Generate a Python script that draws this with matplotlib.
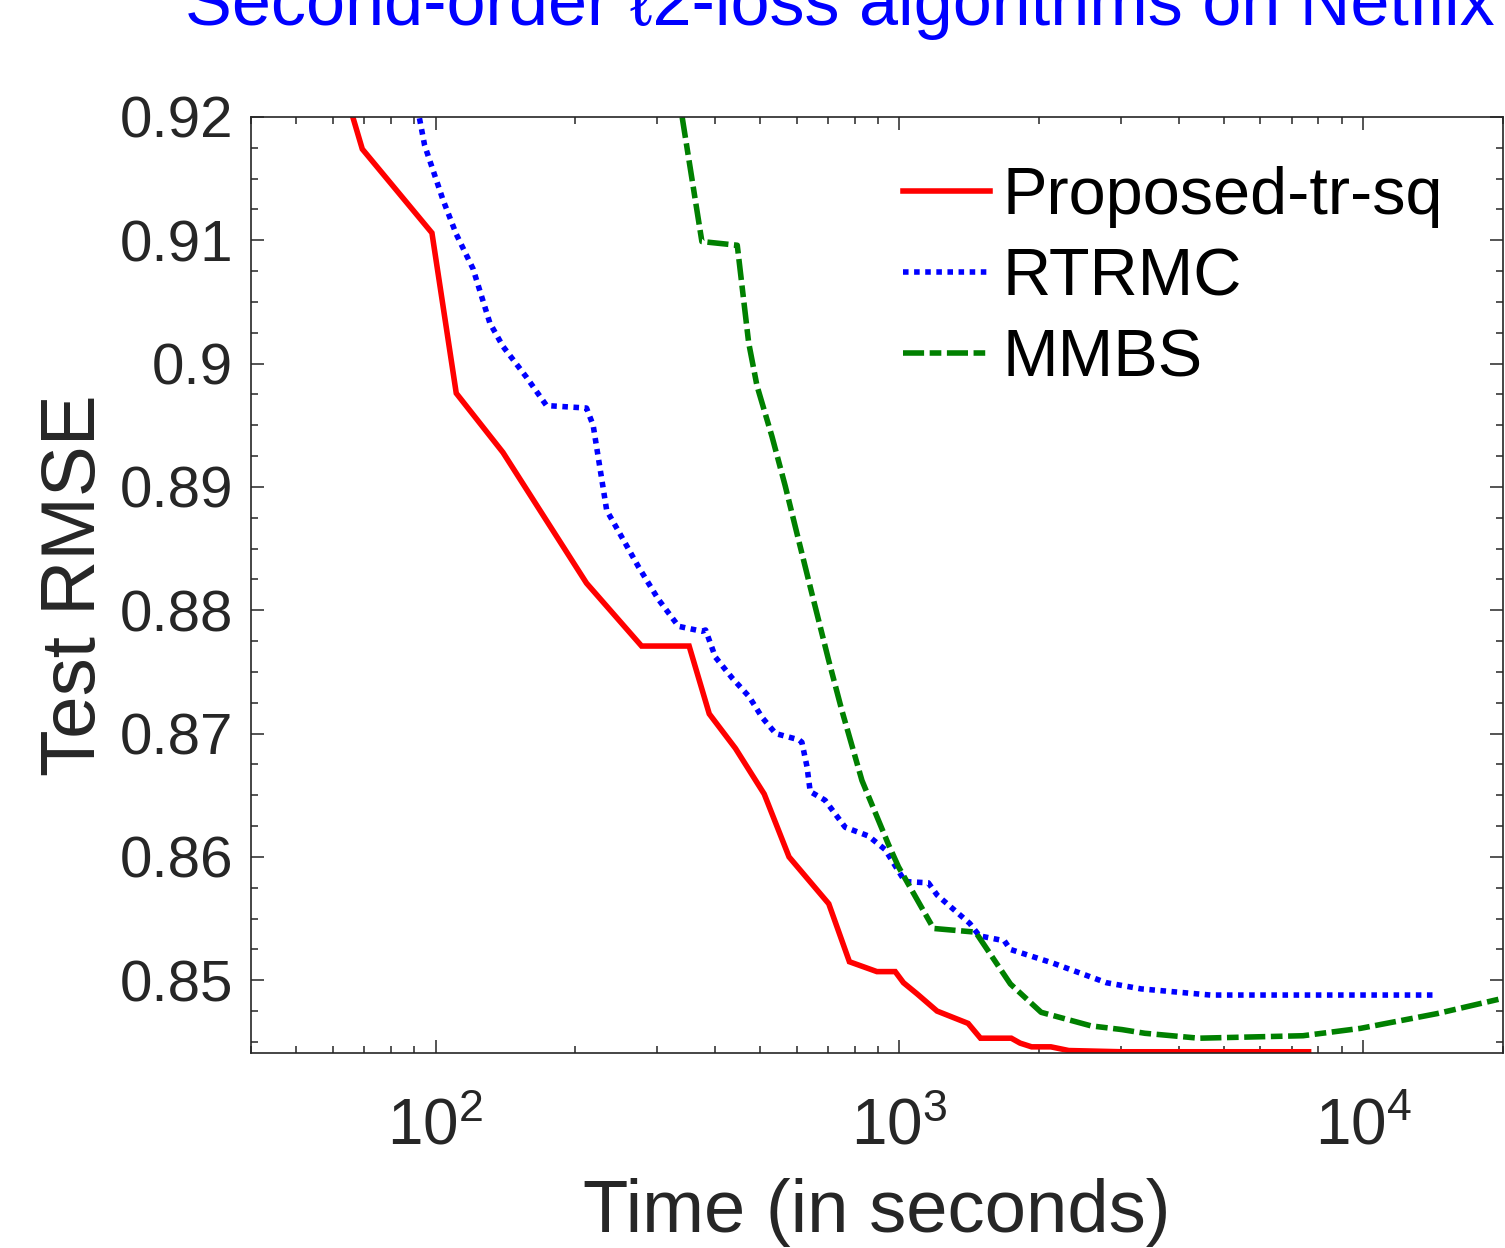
"""
Test RMSE against time for the second-order l2-loss solvers on Netflix.

Three curves on a log time axis, MATLAB-like box with inward ticks.
"""
import matplotlib
matplotlib.use("Agg")
import matplotlib.pyplot as plt
from matplotlib import font_manager
from matplotlib.ticker import LogLocator, NullFormatter, FixedLocator, FixedFormatter, MultipleLocator

# ---- data ----
tr_sq_time = [66.3, 69.5, 98.2, 110.8, 139.7, 211.5, 278, 352, 389, 443, 511, 578, 704,
              780, 894, 979, 1020, 1091, 1205, 1406, 1495, 1742, 1820, 1927, 2120, 2317,
              3013, 7620]
tr_sq_rmse = [0.9200, 0.9174, 0.9106, 0.8976, 0.8928, 0.8822, 0.8771, 0.8771, 0.8716,
              0.8688, 0.8651, 0.8600, 0.8562, 0.8515, 0.8507, 0.8507, 0.8498, 0.8489,
              0.8475, 0.8465, 0.8453, 0.8453, 0.8449, 0.8446, 0.8446, 0.8443, 0.8442,
              0.8442]

rtrmc_time = [92.3, 94.7, 98.7, 103.7, 110.8, 120.4, 130.9, 139.7, 157, 173.4, 211.5,
              218.6, 233.8, 248, 274, 302, 334, 375, 382, 401, 436, 474, 506, 541, 607,
              616, 632, 642, 691, 764, 857, 931, 1028, 1154, 1206, 1418, 1487, 1683, 1733,
              2138, 2793, 3317, 4680, 14190]
rtrmc_rmse = [0.9199, 0.9177, 0.9157, 0.9133, 0.9105, 0.9077, 0.9033, 0.9014, 0.8989,
              0.8966, 0.8964, 0.8950, 0.8881, 0.8864, 0.8835, 0.8809, 0.8787, 0.8783,
              0.8784, 0.8762, 0.8745, 0.8730, 0.8713, 0.8700, 0.8695, 0.8693, 0.8673,
              0.8653, 0.8646, 0.8624, 0.8617, 0.8606, 0.8580, 0.8579, 0.8569, 0.8546,
              0.8536, 0.8532, 0.8525, 0.8514, 0.8498, 0.8493, 0.8488, 0.8488]

mmbs_time = [340, 375, 447, 473, 493, 531, 567, 606, 647, 703, 751, 830, 947, 995, 1184,
             1459, 1734, 2020, 2588, 3015, 3380, 4420, 7410, 9865, 14440, 19800]
mmbs_rmse = [0.9200, 0.9099, 0.9096, 0.9017, 0.8982, 0.8941, 0.8901, 0.8857, 0.8814,
             0.8760, 0.8719, 0.8662, 0.8610, 0.8592, 0.8542, 0.8539, 0.8497, 0.8474,
             0.8463, 0.8460, 0.8457, 0.8453, 0.8455, 0.8461, 0.8473, 0.8485]

series_labels = ["Proposed-tr-sq", "RTRMC", "MMBS"]
ytick_values = [0.85, 0.86, 0.87, 0.88, 0.89, 0.90, 0.91, 0.92]
ytick_labels = ["0.85", "0.86", "0.87", "0.88", "0.89", "0.9", "0.91", "0.92"]
title_text = "Second-order \u21132-loss algorithms on Netflix"

W, H = 1505, 1248
INK = "#262626"


def pick_font():
    names = {f.name for f in font_manager.fontManager.ttflist}
    for name in ["Liberation Sans", "Arial", "DejaVu Sans"]:
        if name in names:
            return name
    return "DejaVu Sans"


def main():
    font = pick_font()
    plt.rcParams["font.family"] = [font, "DejaVu Sans"]
    plt.rcParams["mathtext.fontset"] = "custom"
    plt.rcParams["mathtext.rm"] = font
    plt.rcParams["mathtext.it"] = font + ":italic"

    fig = plt.figure(figsize=(W / 100, H / 100), dpi=100)
    ax = fig.add_axes([251 / W, 1 - 1053 / H, (1503 - 251) / W, (1053 - 117) / H])

    ax.plot(tr_sq_time, tr_sq_rmse, color="red", lw=4.0, solid_joinstyle="miter",
            label=series_labels[0])
    ax.plot(rtrmc_time, rtrmc_rmse, color="blue", lw=4.0, linestyle=(0, (1, 1)),
            dash_capstyle="butt", label=series_labels[1])
    ax.plot(mmbs_time, mmbs_rmse, color="green", lw=4.0, linestyle=(0, (3.8, 1, 2.1, 1)),
            dash_capstyle="butt", label=series_labels[2])

    ax.set_xscale("log")
    ax.set_xlim(40, 2e4)
    ax.set_ylim(0.8441, 0.92)

    ax.xaxis.set_major_locator(LogLocator(base=10, numticks=10))
    ax.xaxis.set_minor_locator(LogLocator(base=10, subs=range(2, 10), numticks=20))
    ax.xaxis.set_minor_formatter(NullFormatter())
    ax.yaxis.set_major_locator(FixedLocator(ytick_values))
    ax.yaxis.set_major_formatter(FixedFormatter(ytick_labels))
    ax.yaxis.set_minor_locator(MultipleLocator(0.0025))

    ax.tick_params(which="both", direction="in", top=True, right=True, colors=INK,
                   labelcolor=INK, width=1.1)
    ax.tick_params(which="major", length=9.5, labelsize=42)
    ax.tick_params(which="minor", length=5)
    ax.tick_params(axis="y", pad=13)
    ax.tick_params(axis="x", pad=32, labelsize=46)
    for sp in ax.spines.values():
        sp.set_color(INK)
        sp.set_linewidth(1.2)

    ax.set_xlabel("Time (in seconds)", fontsize=53.5, color=INK, labelpad=15)
    ax.set_ylabel("Test RMSE", fontsize=55, color=INK, labelpad=6)

    ax.legend(loc="upper left", bbox_to_anchor=(903 / W, 1 - 166 / H),
              bbox_transform=fig.transFigure, frameon=False, fontsize=48,
              handlelength=1.3, handletextpad=0.2, labelspacing=0.29,
              borderpad=0, borderaxespad=0)

    fig.text(185 / W, 1 - 25 / H, title_text, color="blue", fontsize=50.5,
             ha="left", va="baseline")

    fig.savefig("out.png", dpi=100)
    print("saved out.png")


if __name__ == "__main__":
    main()
